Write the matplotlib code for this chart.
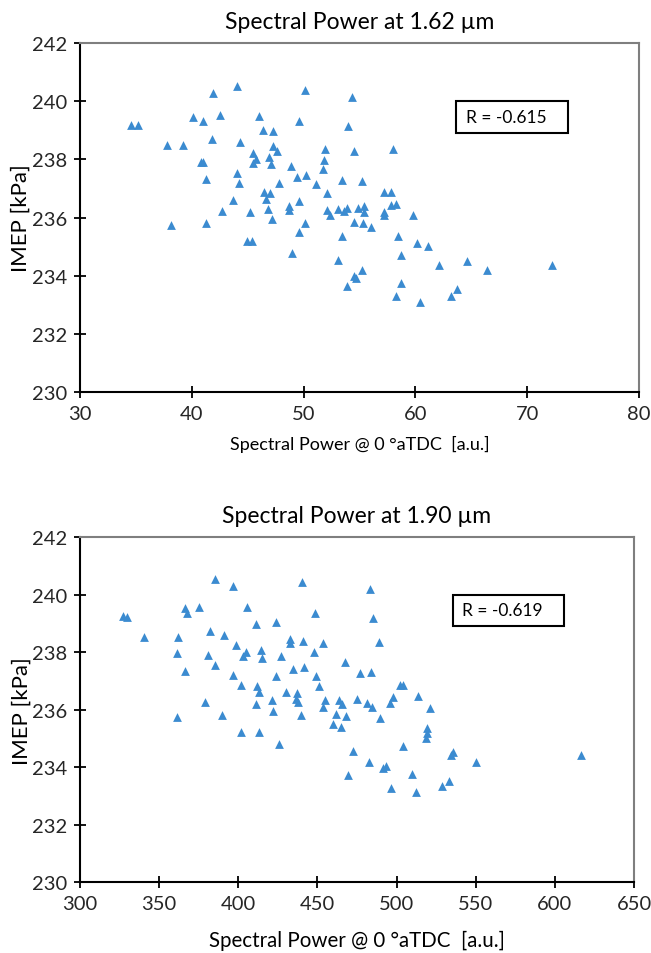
import matplotlib
matplotlib.use("Agg")
import matplotlib.pyplot as plt
from matplotlib.patches import Rectangle

plt.rcParams["font.family"] = ["Lato", "DejaVu Sans"]

# Top panel: spectral power at 1.62 um vs IMEP
sp162 = [34.6, 35.2, 37.8, 39.2, 40.1, 41.0, 41.9, 42.5, 44.0, 41.8,
         44.3, 46.0, 46.4, 47.3, 49.6, 50.1, 54.0, 54.3, 40.8, 41.0,
         41.3, 44.0, 44.2, 45.5, 45.7, 45.5, 46.9, 47.1, 47.3, 47.6,
         47.8, 48.9, 49.4, 50.2, 51.1, 51.9, 51.8, 51.7, 53.4, 55.2,
         54.5, 52.1, 46.5, 47.0, 46.6, 43.7, 49.6, 48.7, 48.7, 46.8,
         47.2, 45.2, 42.7, 38.1, 41.3, 50.1, 49.6, 52.1, 52.4, 53.1,
         53.6, 53.9, 54.9, 55.4, 55.4, 54.5, 55.3, 53.4, 44.9, 45.4,
         49.0, 53.1, 55.2, 54.5, 54.7, 53.9, 58.0, 57.2, 57.8, 57.8,
         58.3, 57.2, 57.2, 59.8, 56.0, 58.4, 60.1, 61.1, 58.7, 62.1,
         64.6, 66.4, 72.2, 58.7, 58.3, 60.4, 63.7, 63.2]
imep162 = [239.19, 239.19, 238.49, 238.49, 239.47, 239.33, 240.28, 239.53, 240.53, 238.70,
           238.61, 239.50, 239.02, 238.96, 239.33, 240.38, 239.16, 240.16, 237.92, 237.90,
           237.33, 237.53, 237.19, 238.21, 238.01, 237.87, 238.07, 237.84, 238.47, 238.30,
           237.19, 237.78, 237.41, 237.47, 237.14, 238.36, 237.99, 237.67, 237.29, 237.27,
           238.30, 236.83, 236.87, 236.85, 236.64, 236.59, 236.56, 236.41, 236.27, 236.30,
           235.95, 236.18, 236.24, 235.75, 235.80, 235.80, 235.49, 236.26, 236.09, 236.30,
           236.22, 236.32, 236.32, 236.41, 236.18, 235.86, 235.80, 235.38, 235.21, 235.21,
           234.78, 234.55, 234.20, 233.98, 233.92, 233.66, 238.36, 236.87, 236.87, 236.44,
           236.47, 236.20, 236.09, 236.10, 235.67, 235.36, 235.13, 235.01, 234.71, 234.38,
           234.52, 234.20, 234.38, 233.74, 233.30, 233.11, 233.55, 233.30]

# Bottom panel: spectral power at 1.90 um vs IMEP
sp190 = [327.0, 329.9, 340.4, 361.7, 361.1, 366.5, 366.3, 367.8, 375.2, 385.3,
         396.5, 382.1, 391.2, 381.1, 385.3, 398.4, 404.7, 403.2, 405.7, 411.2,
         424.0, 440.0, 448.4, 414.3, 414.7, 427.2, 432.7, 432.7, 441.1, 447.8,
         453.3, 396.7, 401.9, 411.6, 413.3, 424.0, 434.6, 441.7, 448.9, 450.8,
         467.4, 476.9, 483.2, 485.3, 430.1, 437.3, 436.4, 437.9, 379.0, 411.2,
         421.5, 421.7, 454.8, 453.3, 463.8, 465.7, 474.8, 481.5, 361.5, 389.5,
         401.9, 413.3, 425.9, 439.6, 461.5, 460.0, 464.7, 467.8, 472.6, 469.1,
         482.4, 489.1, 484.0, 502.1, 504.2, 513.3, 521.1, 497.5, 495.8, 484.6,
         489.5, 519.4, 519.0, 518.4, 503.8, 491.6, 493.1, 534.2, 535.8, 550.1,
         616.3, 509.9, 496.3, 512.1, 528.9, 533.3]
imep190 = [239.25, 239.22, 238.52, 238.52, 237.97, 237.33, 239.53, 239.36, 239.58, 240.55,
           240.32, 238.73, 238.61, 237.91, 237.56, 238.24, 238.02, 237.88, 239.57, 239.00,
           239.06, 240.43, 239.37, 238.08, 237.79, 237.86, 238.46, 238.32, 238.38, 238.00,
           238.31, 237.21, 236.87, 236.84, 236.63, 237.19, 237.42, 237.50, 237.17, 236.84,
           237.67, 237.28, 240.20, 239.19, 236.61, 236.57, 236.38, 236.26, 236.26, 236.20,
           236.32, 235.97, 236.32, 236.11, 236.32, 236.20, 236.38, 236.24, 235.74, 235.80,
           235.22, 235.22, 234.80, 235.80, 235.85, 235.50, 235.38, 235.77, 234.57, 233.71,
           234.19, 238.35, 237.30, 236.87, 236.87, 236.46, 236.06, 236.43, 236.23, 236.09,
           235.70, 235.36, 235.19, 235.01, 234.72, 233.96, 234.03, 234.43, 234.52, 234.17,
           234.43, 233.77, 233.28, 233.13, 233.33, 233.51]

panels = [
    {"x": sp162, "y": imep162, "title": "Spectral Power at 1.62 \u00b5m",
     "r": "R = -0.615", "xlim": (30, 80), "xstep": 10,
     "rect": [0.1229, 0.588, 0.8587, 0.3658],
     "xlabel_size": 13, "xlabel_pad": 9},
    {"x": sp190, "y": imep190, "title": "Spectral Power at 1.90 \u00b5m",
     "r": "R = -0.619", "xlim": (300, 650), "xstep": 50,
     "rect": [0.1229, 0.0744, 0.851, 0.3613],
     "xlabel_size": 14.8, "xlabel_pad": 13},
]

fig = plt.figure(figsize=(6.51, 9.54), dpi=100)

for p in panels:
    ax = fig.add_axes(p["rect"])
    ax.scatter(p["x"], p["y"], marker="^", s=40, color="#3b8bd0",
               linewidths=0, zorder=3)
    ax.set_xlim(*p["xlim"])
    ax.set_ylim(230, 242)
    lo, hi = p["xlim"]
    ax.set_xticks(range(lo, hi + 1, p["xstep"]))
    ax.set_yticks(range(230, 243, 2))

    ax.set_title(p["title"], fontsize=16.5, pad=11)
    ax.set_xlabel("Spectral Power @ 0 \u00b0aTDC  [a.u.]",
                  fontsize=p["xlabel_size"], labelpad=p["xlabel_pad"])
    ax.set_ylabel("IMEP [kPa]", fontsize=16)
    # anchor is the right-hand side of the rotated label, just left of ticks
    ax.yaxis.set_label_coords(-0.088, 0.5)

    for side in ("left", "bottom"):
        ax.spines[side].set_color("black")
        ax.spines[side].set_linewidth(1.5)
    for side in ("top", "right"):
        ax.spines[side].set_color("#7f7f7f")
        ax.spines[side].set_linewidth(1.5)
    ax.tick_params(direction="inout", length=9, width=1.3,
                   labelsize=14.5, colors="black", pad=5)
    for lbl in ax.get_xticklabels() + ax.get_yticklabels():
        lbl.set_color("#262626")

    # correlation box
    ax.add_patch(Rectangle((0.673, 0.742), 0.2, 0.092, transform=ax.transAxes,
                           fill=False, edgecolor="black", linewidth=1.5,
                           zorder=4))
    ax.text(0.69, 0.788, p["r"], transform=ax.transAxes, fontsize=12.5,
            va="center", ha="left", zorder=5)

fig.savefig("out.png", dpi=100)
